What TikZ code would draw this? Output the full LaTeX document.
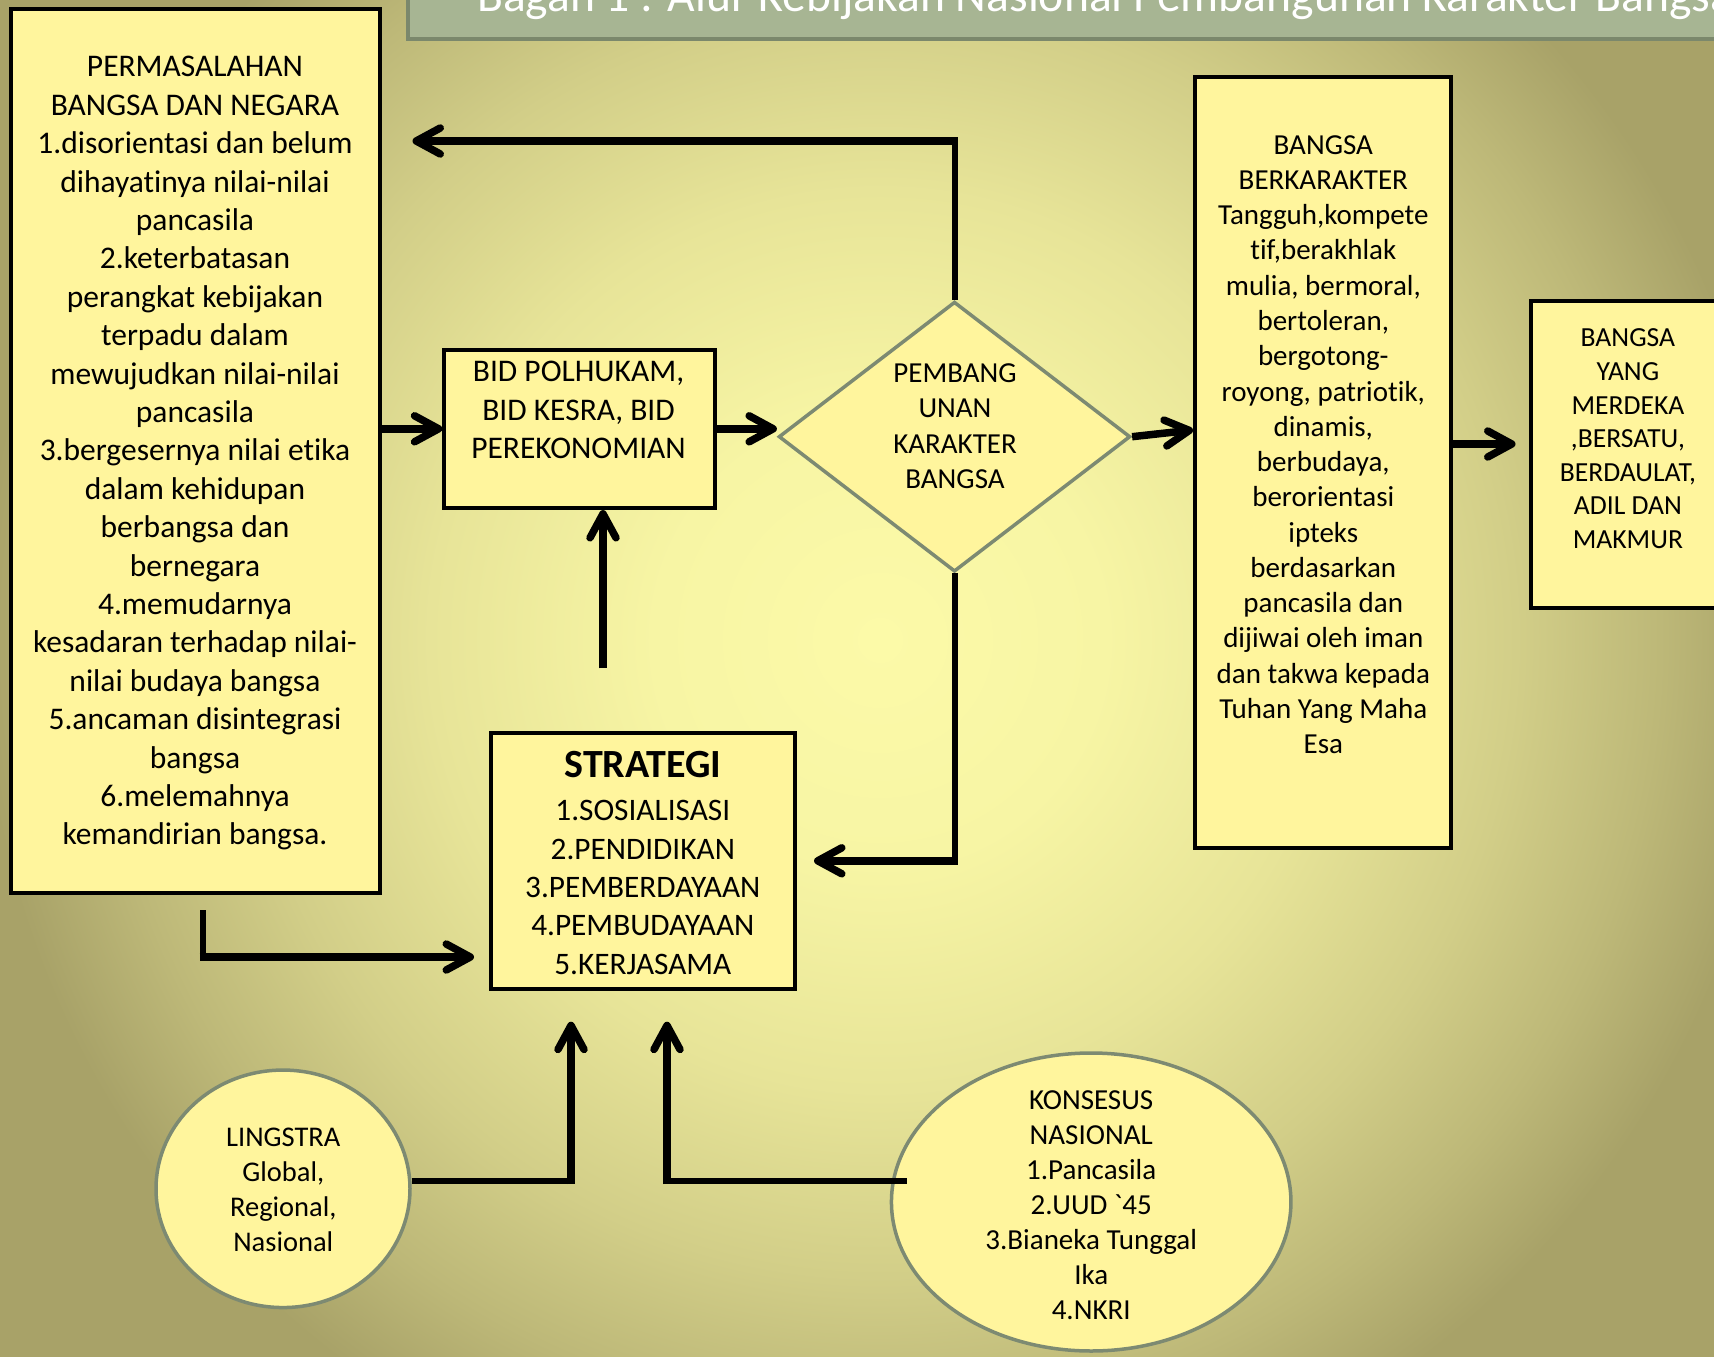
\documentclass[tikz,border=0pt]{standalone}
\usepackage{fontspec}
\setmainfont{Carlito}[Ligatures={TeXOff,CommonOff}]
\usetikzlibrary{shapes.geometric,arrows.meta}

\definecolor{boxfill}{HTML}{FFF59D}
\definecolor{ringline}{HTML}{7D8A72}
\definecolor{bannerfill}{HTML}{A7B593}
\definecolor{bannerdark}{HTML}{7B886C}
\definecolor{bgc0}{HTML}{FCFAA8}
\definecolor{bgc1}{HTML}{F7F5A4}
\definecolor{bgc2}{HTML}{E7E498}
\definecolor{bgc3}{HTML}{D2CE88}
\definecolor{bgc4}{HTML}{BDB878}
\definecolor{bgc5}{HTML}{A8A268}

% soft olive backdrop, pale yellow in the middle
% (the inner 25bp of a shading span the shaded path)
\pgfdeclareradialshading{backdrop}{\pgfpoint{0bp}{0bp}}{%
  color(0bp)=(bgc0); color(4.6875bp)=(bgc1); color(9.375bp)=(bgc2);
  color(13.25bp)=(bgc3); color(16.25bp)=(bgc4); color(18.75bp)=(bgc5);
  color(50bp)=(bgc5)}

% invisible strut that centres a text line on its letters
\newcommand\lnstrut{\rule[-0.25em]{0pt}{1.1em}}

\tikzset{
  panel/.style={draw=black, line width=4pt, fill=boxfill, rectangle, inner sep=0pt},
  ring/.style={draw=ringline, line width=3.5pt, fill=boxfill, ellipse, inner sep=0pt},
  words/.style={align=center, inner sep=0pt, text=black},
  flow/.style={line width=7.5pt, -{Straight Barb[length=24pt,width=26pt,round]}},
  stem/.style={line width=6pt},
}

\begin{document}
\begin{tikzpicture}[x=1pt,y=-1pt]
\useasboundingbox (0,0) rectangle (1714,1357);
\begin{scope}
\clip (0,0) rectangle (1714,1357);
\fill[bgc5] (0,0) rectangle (1714,1357);
\shade[shading=backdrop] (880,640) circle (1200pt);

% title banner
\fill[bannerdark] (406,-10) rectangle (1730,40.7);
\fill[bannerfill] (409.5,-10) rectangle (1730,36.7);
\node[anchor=base west, inner sep=0pt, text=white, font=\fontsize{47.6}{57}\selectfont]
  (title) at (477,11) {Bagan 1 : Alur Kebijakan Nasional Pembangunan Karakter Bangsa};

% problems
\node[panel, minimum width=368.4pt, minimum height=883.7pt] (perm) at (195.5,451.2) {};
\node[words, font=\fontsize{31.5}{38.4}\selectfont] (permtext) at (195,451.4)
  {\lnstrut PERMASALAHAN\\ BANGSA DAN NEGARA\\ 1.disorientasi dan belum\\
   dihayatinya nilai-nilai\\ pancasila\\ 2.keterbatasan\\ perangkat kebijakan\\
   terpadu dalam\\ mewujudkan nilai-nilai\\ pancasila\\ 3.bergesernya nilai etika\\
   dalam kehidupan\\ berbangsa dan\\ bernegara\\ 4.memudarnya\\
   kesadaran terhadap nilai-\\ nilai budaya bangsa\\ 5.ancaman disintegrasi\\
   bangsa\\ 6.melemahnya\\ \lnstrut kemandirian bangsa.};

% fields
\node[panel, minimum width=271pt, minimum height=158.5pt] (bid) at (579.8,428.8) {};
\node[words, font=\fontsize{31.5}{38.4}\selectfont] (bidtext) at (578.5,410.8)
  {\lnstrut BID POLHUKAM,\\ BID KESRA, BID\\ \lnstrut PEREKONOMIAN};

% character building
\node[diamond, draw=ringline, line width=3.5pt, fill=boxfill, inner sep=0pt,
      minimum width=351.7pt, minimum height=270pt] (dia) at (954.5,436.7) {};
\node[words, font=\fontsize{29}{35.4}\selectfont] (diatext) at (955,426.9)
  {\lnstrut PEMBANG\\ UNAN\\ KARAKTER\\ \lnstrut BANGSA};

% nation with character
\node[panel, minimum width=255.5pt, minimum height=771.8pt] (berk) at (1322.75,462.4) {};
\node[words, font=\fontsize{29}{35.27}\selectfont] (berktext) at (1323.3,445.2)
  {\lnstrut BANGSA\\ BERKARAKTER\\ Tangguh,kompete\\ tif,berakhlak\\ mulia, bermoral,\\
   bertoleran,\\ bergotong-\\ royong, patriotik,\\ dinamis,\\ berbudaya,\\ berorientasi\\
   ipteks\\ berdasarkan\\ pancasila dan\\ dijiwai oleh iman\\ dan takwa kepada\\
   Tuhan Yang Maha\\ \lnstrut Esa};

% goal
\node[panel, minimum width=260pt, minimum height=307.2pt] (merd) at (1660.8,454.2) {};
\node[words, font=\fontsize{27.6}{33.6}\selectfont] (merdtext) at (1627.9,439.5)
  {\lnstrut BANGSA\\ YANG\\ MERDEKA\\ ,BERSATU,\\ BERDAULAT,\\ ADIL DAN\\ \lnstrut MAKMUR};

% strategy
\node[panel, minimum width=303.7pt, minimum height=255.7pt] (strat) at (643.2,860.8) {};
\node[words, font=\fontsize{40}{48}\selectfont\bfseries] (strathead) at (643,765.8)
  {\lnstrut STRATEGI};
\node[words, font=\fontsize{31.3}{38.45}\selectfont] (stratlist) at (642.8,888.1)
  {\lnstrut 1.SOSIALISASI\\ 2.PENDIDIKAN\\ 3.PEMBERDAYAAN\\ 4.PEMBUDAYAAN\\ \lnstrut 5.KERJASAMA};

% strategic environment
\node[ring, minimum width=254pt, minimum height=237.5pt] (ling) at (283,1188.8) {};
\node[words, font=\fontsize{28.5}{34.7}\selectfont] (lingtext) at (283.3,1190.4)
  {\lnstrut LINGSTRA\\ Global,\\ Regional,\\ \lnstrut Nasional};

% national consensus
\node[ring, minimum width=399.5pt, minimum height=298pt] (kons) at (1091.2,1202) {};
\node[words, font=\fontsize{29}{35.07}\selectfont] (konstext) at (1091.2,1206)
  {\lnstrut KONSESUS\\ NASIONAL\\ 1.Pancasila\\ 2.UUD `45\\ 3.Bianeka Tunggal\\
   Ika\\ \lnstrut 4.NKRI};

% ---- connectors ----
% feedback over the top back to the problems
\coordinate (fbtip) at (412.5,141);
\coordinate (fbturn) at (dia.north |- fbtip);
\draw[stem] (dia.north) -- ([yshift=3.75pt]fbturn);
\draw[flow] ([xshift=3pt]fbturn) -- (fbtip);

% problems -> fields -> character building -> nation -> goal
\draw[flow] (perm.east |- bid.west) -- (bid.west);
\draw[flow] (bid.east) -- (bid.east -| dia.west);
\coordinate (berkin) at ([yshift=32.4pt]berk.west);
\draw[flow] (dia.east) -- (berkin);
\coordinate (merdtip) at (1515.5,444);
\draw[flow] (berk.east |- merdtip) -- (merdtip);

% character building down to strategy
\coordinate (stratturn) at (dia.south |- strat.east);
\draw[stem] (dia.south) -- ([yshift=-3.75pt]stratturn);
\draw[flow, shorten >=17pt] ([xshift=3pt]stratturn) -- (strat.east);

% strategy up into the fields
\coordinate (upfoot) at (603,668.3);
\draw[flow] (upfoot) -- (upfoot |- bid.south);

% problems down to strategy
\coordinate (permfoot) at (202.7,910);
\coordinate (permtip) at (474,957);
\coordinate (permturn) at (permfoot |- permtip);
\draw[stem] (permfoot) -- ([yshift=-3.75pt]permturn);
\draw[flow] ([xshift=-3pt]permturn) -- (permtip);

% environment and consensus up to strategy
\coordinate (lingtip) at (571,1021.7);
\coordinate (lingturn) at (571,1181);
\draw[stem] (ling.east |- lingturn) -- ([xshift=3.75pt]lingturn);
\draw[flow] ([yshift=-3pt]lingturn) -- (lingtip);

\coordinate (konsfoot) at (906.7,1181);
\coordinate (konstip) at (667,1021.7);
\coordinate (konsturn) at (konstip |- konsfoot);
\draw[stem] (konsfoot) -- ([xshift=-3.75pt]konsturn);
\draw[flow] ([yshift=-3pt]konsturn) -- (konstip);
\end{scope}
\end{tikzpicture}
\end{document}
